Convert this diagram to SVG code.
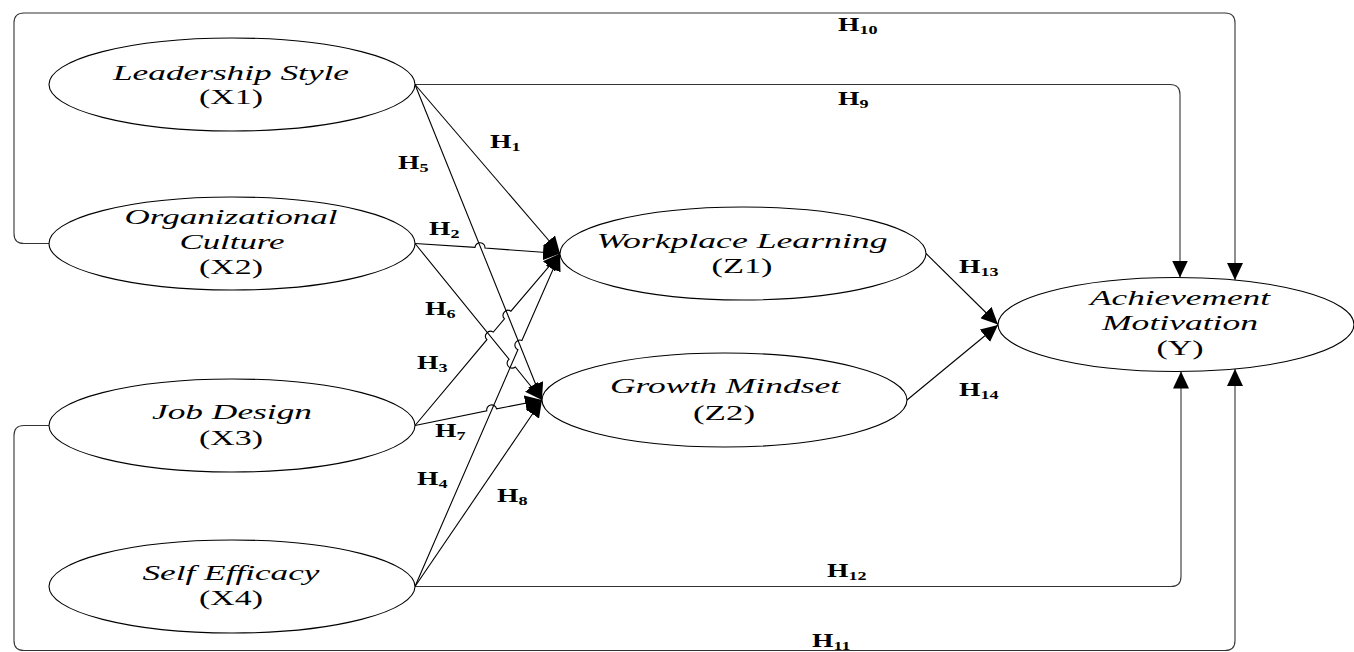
<svg xmlns="http://www.w3.org/2000/svg" width="1354" height="652" viewBox="0 0 1354 652">
<defs>
<marker id="arr" markerUnits="userSpaceOnUse" markerWidth="17" markerHeight="16" refX="17" refY="8" orient="auto" viewBox="0 0 17 16">
<path d="M0,0 L17,8 L0,16 z" fill="#000"/>
</marker>
<style>
.node{fill:#fff;stroke:#000;stroke-width:1.1}
.t{font-family:"Liberation Serif","Times New Roman",serif;font-size:22px;text-anchor:middle;fill:#000}
.i{font-style:italic}
.c{fill:none;stroke:#000;stroke-width:1.1;marker-end:url(#arr)}
.r{stroke:#333}
.lbl{font-family:"Liberation Serif","Times New Roman",serif;font-size:19px;font-weight:bold;fill:#000}
.sub{font-size:12.5px}
</style>
</defs>
<rect width="1354" height="652" fill="#fff"/>
<g id="connectors">
<path id="h10" class="c r" d="M49,243.5 L24,243.5 Q14,243.5 14,233.5 L14,23 Q14,13 24,13 L1225,13 Q1235,13 1235,23 L1235,280"/>
<path id="h9" class="c r" d="M415,84.5 L1170,84.5 Q1180,84.5 1180,94.5 L1180,277.5"/>
<path id="h12" class="c r" d="M415,586.5 L1171,586.5 Q1181,586.5 1181,576.5 L1181,371.5"/>
<path id="h11" class="c r" d="M49,425.5 L24,425.5 Q14,425.5 14,435.5 L14,640.5 Q14,650.5 24,650.5 L1225,650.5 Q1235,650.5 1235,640.5 L1235,369"/>
<path id="h1" class="c" d="M415,84.5 L560,253.5"/>
<path id="h5" class="c" d="M415,84.5 L542,400"/>
<path id="h2" class="c" d="M415,243.5 L475,247.4 A5,5 0 0 1 485,248.1 L560,253.5"/>
<path id="h6" class="c" d="M415,243.5 L509,359.2 A5,5 0 0 0 515.3,367 L542,400"/>
<path id="h3" class="c" d="M415,425.5 L486.9,339.7 A5,5 0 0 1 493.3,332.1 L504.5,318.8 A5,5 0 0 1 510.9,311.2 L560,253.5"/>
<path id="h7" class="c" d="M415,425.5 L486.8,410.9 A5,5 0 0 1 496.6,408.9 L542,400"/>
<path id="h4" class="c" d="M415,586.5 L517.9,349.7 A5,5 0 0 1 521.9,340.5 L560,253.5"/>
<path id="h8" class="c" d="M415,586.5 L542,400"/>
<path id="h13" class="c" d="M926,253.5 L998,324.5"/>
<path id="h14" class="c" d="M907,400 L998,325"/>
</g>
<g id="labels">
<text class="lbl" transform="translate(838,31) scale(1.45,1)">H<tspan class="sub" dy="3">10</tspan></text>
<text class="lbl" transform="translate(838,105) scale(1.45,1)">H<tspan class="sub" dy="3">9</tspan></text>
<text class="lbl" transform="translate(490,148) scale(1.45,1)">H<tspan class="sub" dy="3">1</tspan></text>
<text class="lbl" transform="translate(398,169) scale(1.45,1)">H<tspan class="sub" dy="3">5</tspan></text>
<text class="lbl" transform="translate(429,235) scale(1.45,1)">H<tspan class="sub" dy="3">2</tspan></text>
<text class="lbl" transform="translate(425,315) scale(1.45,1)">H<tspan class="sub" dy="3">6</tspan></text>
<text class="lbl" transform="translate(417,369) scale(1.45,1)">H<tspan class="sub" dy="3">3</tspan></text>
<text class="lbl" transform="translate(435,437) scale(1.45,1)">H<tspan class="sub" dy="3">7</tspan></text>
<text class="lbl" transform="translate(417,485) scale(1.45,1)">H<tspan class="sub" dy="3">4</tspan></text>
<text class="lbl" transform="translate(497,502) scale(1.45,1)">H<tspan class="sub" dy="3">8</tspan></text>
<text class="lbl" transform="translate(959,273) scale(1.45,1)">H<tspan class="sub" dy="3">13</tspan></text>
<text class="lbl" transform="translate(959,396) scale(1.45,1)">H<tspan class="sub" dy="3">14</tspan></text>
<text class="lbl" transform="translate(827,577) scale(1.45,1)">H<tspan class="sub" dy="3">12</tspan></text>
<text class="lbl" transform="translate(812,647) scale(1.45,1)">H<tspan class="sub" dy="3">11</tspan></text>
</g>
<g id="x1">
<ellipse class="node" cx="232" cy="84.5" rx="183" ry="46.5"/>
<text class="t i" x="231" y="80" textLength="236" lengthAdjust="spacingAndGlyphs">Leadership Style</text>
<text class="t" x="231" y="104" textLength="64" lengthAdjust="spacingAndGlyphs">(X1)</text>
</g>
<g id="x2">
<ellipse class="node" cx="232" cy="243.5" rx="183" ry="46.5"/>
<text class="t i" x="231" y="224" textLength="213" lengthAdjust="spacingAndGlyphs">Organizational</text>
<text class="t i" x="232" y="249" textLength="105" lengthAdjust="spacingAndGlyphs">Culture</text>
<text class="t" x="231" y="274" textLength="64" lengthAdjust="spacingAndGlyphs">(X2)</text>
</g>
<g id="x3">
<ellipse class="node" cx="232" cy="425.5" rx="183" ry="46.5"/>
<text class="t i" x="232" y="419" textLength="160" lengthAdjust="spacingAndGlyphs">Job Design</text>
<text class="t" x="231" y="445" textLength="64" lengthAdjust="spacingAndGlyphs">(X3)</text>
</g>
<g id="x4">
<ellipse class="node" cx="232" cy="586.5" rx="183" ry="46.5"/>
<text class="t i" x="231" y="580" textLength="177" lengthAdjust="spacingAndGlyphs">Self Efficacy</text>
<text class="t" x="231" y="605" textLength="64" lengthAdjust="spacingAndGlyphs">(X4)</text>
</g>
<g id="z1">
<ellipse class="node" cx="743" cy="253.5" rx="183" ry="46.5"/>
<text class="t i" x="742" y="248" textLength="291" lengthAdjust="spacingAndGlyphs">Workplace Learning</text>
<text class="t" x="742" y="273" textLength="61" lengthAdjust="spacingAndGlyphs">(Z1)</text>
</g>
<g id="z2">
<ellipse class="node" cx="724.5" cy="400" rx="182.5" ry="47"/>
<text class="t i" x="725" y="393" textLength="230" lengthAdjust="spacingAndGlyphs">Growth Mindset</text>
<text class="t" x="724" y="420" textLength="62" lengthAdjust="spacingAndGlyphs">(Z2)</text>
</g>
<g id="y">
<ellipse class="node" cx="1176" cy="324.5" rx="178" ry="47"/>
<text class="t i" x="1180" y="305" textLength="180" lengthAdjust="spacingAndGlyphs">Achievement</text>
<text class="t i" x="1180" y="330" textLength="156" lengthAdjust="spacingAndGlyphs">Motivation</text>
<text class="t" x="1180" y="355" textLength="47" lengthAdjust="spacingAndGlyphs">(Y)</text>
</g>
</svg>
